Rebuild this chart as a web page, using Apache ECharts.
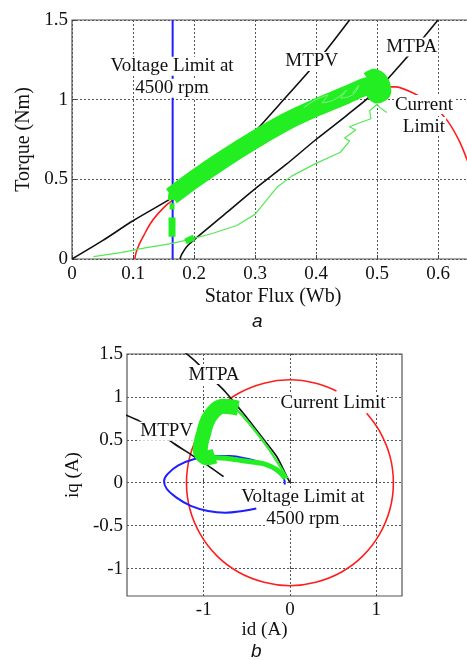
<!DOCTYPE html>
<html>
<head>
<meta charset="utf-8">
<script src="https://cdn.jsdelivr.net/npm/echarts@6/dist/echarts.min.js"></script>
<style>
html, body { margin: 0; padding: 0; background: #fff; }
#chart { width: 467px; height: 660px; }
</style>
</head>
<body>
<div id="chart"></div>
<script>
// ---- (a) torque vs stator flux ----
const mtpvA = [[0, 0], [0.05, 0.115], [0.1, 0.24], [0.165, 0.385], [0.2, 0.47], [0.25, 0.61], [0.3, 0.8], [0.34, 0.97], [0.4, 1.23], [0.455, 1.5]];
const mtpaA = [[0.177, 0], [0.18, 0.03], [0.188, 0.077], [0.2, 0.12], [0.25, 0.28], [0.3, 0.44], [0.35, 0.59], [0.4, 0.75], [0.45, 0.9], [0.5, 1.06], [0.55, 1.27], [0.6, 1.5]];
const currentA = [[0.103, 0], [0.105, 0.04], [0.11, 0.09], [0.118, 0.15], [0.128, 0.22], [0.14, 0.28], [0.155, 0.34], [0.165, 0.37], [0.2, 0.47], [0.25, 0.6], [0.3, 0.72], [0.35, 0.83], [0.4, 0.93], [0.45, 1.02], [0.5, 1.08], [0.53, 1.08], [0.56, 1.04], [0.59, 0.97], [0.615, 0.87], [0.635, 0.74], [0.648, 0.62], [0.66, 0.5]];
const voltageA = [[0.165, 0], [0.165, 1.5]];
const bandA = [[0.163, 0.395], [0.2, 0.5], [0.25, 0.63], [0.3, 0.75], [0.35, 0.86], [0.4, 0.95], [0.45, 1.03], [0.48, 1.08], [0.5, 1.1]];
const tipA = [[0.163, 0.37], [0.165, 0.42], [0.18, 0.46]];
const ringsA = [[0.38, 0.95], [0.4, 1.0], [0.42, 1.03], [0.41, 0.98], [0.43, 1.0], [0.45, 1.06], [0.44, 1.01], [0.46, 1.03], [0.47, 1.09], [0.46, 1.04]];
const blobA = [[0.485, 1.13], [0.495, 1.15], [0.507, 1.12], [0.512, 1.05], [0.5, 1.02], [0.49, 1.07], [0.5, 1.1]];
const startA1 = [[0.164, 0.14], [0.164, 0.26]];
const startA2 = [[0.164, 0.31], [0.164, 0.35]];
const traceA = [[0.035, 0.015], [0.08, 0.04], [0.12, 0.07], [0.16, 0.095], [0.19, 0.12], [0.23, 0.16], [0.27, 0.21], [0.3, 0.28], [0.336, 0.45], [0.36, 0.52], [0.4, 0.6], [0.44, 0.67], [0.455, 0.74], [0.447, 0.76], [0.465, 0.81], [0.455, 0.83], [0.475, 0.86], [0.49, 0.88], [0.488, 0.93], [0.5, 0.97], [0.505, 0.95], [0.516, 0.92]];
const knotA = [[0.186, 0.11], [0.2, 0.135]];

// ---- (b) iq vs id ----
const currentB = [[0.54, 1.07], [0.3, 1.16], [0, 1.2], [-0.3, 1.16], [-0.6, 1.04], [-0.85, 0.85], [-1.04, 0.6], [-1.16, 0.31], [-1.2, 0], [-1.16, -0.31], [-1.04, -0.6], [-0.85, -0.85], [-0.6, -1.04], [-0.3, -1.16], [0, -1.2], [0.3, -1.16], [0.6, -1.04], [0.85, -0.85], [1.04, -0.6], [1.16, -0.31], [1.2, 0], [1.16, 0.31], [1.04, 0.6], [0.89, 0.81]];
const voltageB = [[-0.39, -0.3], [-0.55, -0.33], [-0.75, -0.35], [-0.95, -0.33], [-1.15, -0.27], [-1.32, -0.17], [-1.43, -0.07], [-1.46, 0.02], [-1.42, 0.1], [-1.3, 0.2], [-1.1, 0.28], [-0.9, 0.31], [-0.7, 0.31], [-0.5, 0.28], [-0.3, 0.22], [-0.15, 0.13], [-0.07, 0.05], [-0.06, -0.02]];
const mtpaB = [[0, 0], [-0.04, 0.08], [-0.15, 0.3], [-0.27, 0.46], [-0.4, 0.63], [-0.55, 0.82], [-0.75, 1.06], [-0.87, 1.18], [-1.08, 1.4], [-1.22, 1.52]];
const mtpvB = [[-1.91, 0.79], [-1.74, 0.715], [-1.55, 0.61], [-1.35, 0.46], [-1.15, 0.33], [-0.95, 0.2], [-0.77, 0.07]];
const traceB = [[-0.03, 0.05], [-0.12, 0.2], [-0.25, 0.4], [-0.4, 0.6], [-0.55, 0.78], [-0.65, 0.88]];
const arcB = [[-0.6, 0.87], [-0.77, 0.89], [-0.93, 0.77], [-1.0, 0.58], [-1.04, 0.385], [-0.96, 0.29], [-0.87, 0.31]];
const loopB = [[-1.0, 0.3], [-0.85, 0.29], [-0.7, 0.28], [-0.5, 0.25], [-0.3, 0.22], [-0.15, 0.15], [-0.05, 0.05]];

const idTicks = [-1, 0, 1];
const iqTicks = [-1, -0.5, 0, 0.5, 1, 1.5];

// 标注位置 (数据坐标)
const notesA = [
  {at: [0.164, 1.14], text: '{t|Voltage Limit at}\n{t|4500 rpm}'},
  {at: [0.393, 1.24], text: '{t|MTPV}'},
  {at: [0.557, 1.33], text: '{t|MTPA}'},
  {at: [0.577, 0.9], text: '{t|Current}\n{t|Limit}'},
];
const notesB = [
  {at: [-0.88, 1.26], text: '{t|MTPA}'},
  {at: [-1.43, 0.6], text: '{t|MTPV}'},
  {at: [0.5, 0.93], text: '{t|Current Limit}'},
  {at: [0.15, -0.3], text: '{t|Voltage Limit at}\n{t|4500 rpm}'},
];

const serif = '"Liberation Serif", "Times New Roman", serif';
const ink = '#111';
const green = '#22ee22';

const line = (data, color, width, idx, smooth) => ({
  type: 'line',
  xAxisIndex: idx,
  yAxisIndex: idx,
  data: data,
  symbol: 'none',
  smooth: smooth || false,
  lineStyle: {color: color, width: width, cap: 'butt', join: 'round'},
  silent: true,
});

// 文字标注用 scatter，标签带白底遮住下面的曲线
const notes = (list, idx) => ({
  type: 'scatter',
  xAxisIndex: idx,
  yAxisIndex: idx,
  symbolSize: 0,
  itemStyle: {color: '#fff', opacity: 1},
  z: 10,
  silent: true,
  data: list.map(n => ({value: n.at, label: {formatter: n.text}})),
  label: {
    show: true,
    position: 'inside',
    color: ink,
    textBorderWidth: 0,
    rich: {
      t: {fontFamily: serif, fontSize: 19, color: ink, backgroundColor: '#fff', lineHeight: 22, padding: [0, 1], textBorderWidth: 0},
    },
  },
});

const axisCommon = {
  type: 'value',
  axisLine: {show: false},
  axisTick: {show: true, inside: true, length: 4, lineStyle: {color: '#444'}},
  splitLine: {show: true, lineStyle: {color: '#555', type: [2, 2], width: 1}},
  axisLabel: {fontFamily: serif, fontSize: 19, color: ink},
  nameTextStyle: {fontFamily: serif, fontSize: 20, color: ink},
  nameLocation: 'middle',
};

const myChart = echarts.init(document.getElementById('chart'), null, {renderer: 'canvas'});
const option = {
  animation: false,
  backgroundColor: '#fff',
  grid: [
    {left: 72, top: 20, width: 402, height: 239, show: true, borderColor: '#555', borderWidth: 1.2, outerBoundsMode: 'none'},
    {left: 127, top: 354, width: 275, height: 242, show: true, borderColor: '#555', borderWidth: 1.2, outerBoundsMode: 'none'},
  ],
  xAxis: [
    {...axisCommon, gridIndex: 0, min: 0, max: 402 / 610, interval: 0.1, name: 'Stator Flux (Wb)', nameGap: 28,
      axisLabel: {...axisCommon.axisLabel, margin: 6, showMaxLabel: false}},
    {...axisCommon, gridIndex: 1, min: -1.89, max: 1.3, name: 'id (A)', nameGap: 25,
      nameTextStyle: {...axisCommon.nameTextStyle, fontSize: 19},
      axisTick: {...axisCommon.axisTick, customValues: idTicks},
      axisLabel: {...axisCommon.axisLabel, margin: 5, customValues: idTicks}},
  ],
  yAxis: [
    {...axisCommon, gridIndex: 0, min: 0, max: 1.5, interval: 0.5, name: 'Torque (Nm)', nameGap: 36,
      axisLabel: {...axisCommon.axisLabel, margin: 4}},
    {...axisCommon, gridIndex: 1, min: -1.32, max: 1.5, name: 'iq (A)', nameGap: 43,
      nameTextStyle: {...axisCommon.nameTextStyle, fontSize: 19},
      axisTick: {...axisCommon.axisTick, customValues: iqTicks},
      axisLabel: {...axisCommon.axisLabel, margin: 4, customValues: iqTicks}},
  ],
  series: [
    line(currentA, '#ff1e1e', 1.6, 0, 0.3),
    line(voltageA, '#1e1eff', 2, 0),
    line(mtpvA, ink, 1.6, 0, 0.3),
    line(mtpaA, ink, 1.6, 0, 0.3),
    line(traceA, '#55e855', 1.2, 0),
    line(knotA, green, 6, 0),
    line(startA1, green, 7, 0),
    line(startA2, green, 5, 0),
    line(bandA, green, 18, 0, 0.3),
    line(tipA, green, 7, 0, 0.3),
    line(ringsA, '#8af08a', 1, 0, 0.5),
    line(blobA, green, 14, 0, 0.3),
    notes(notesA, 0),

    line(currentB, '#ff1e1e', 1.6, 1, 0.4),
    line(voltageB, '#1e1eff', 2, 1, 0.4),
    line(mtpaB, ink, 1.6, 1, 0.3),
    line(mtpvB, ink, 1.6, 1, 0.3),
    line(traceB, '#33ee33', 2.5, 1, 0.3),
    line(loopB, green, 5, 1, 0.3),
    line(arcB, green, 15, 1, 0.4),
    notes(notesB, 1),
  ],
  graphic: [
    {type: 'text', left: 252, top: 312, style: {text: 'a', font: 'italic 19px "Liberation Sans", Arial, sans-serif', fill: ink}},
    {type: 'text', left: 251, top: 642, style: {text: 'b', font: 'italic 19px "Liberation Sans", Arial, sans-serif', fill: ink}},
  ],
};
myChart.setOption(option);
</script>
</body>
</html>
